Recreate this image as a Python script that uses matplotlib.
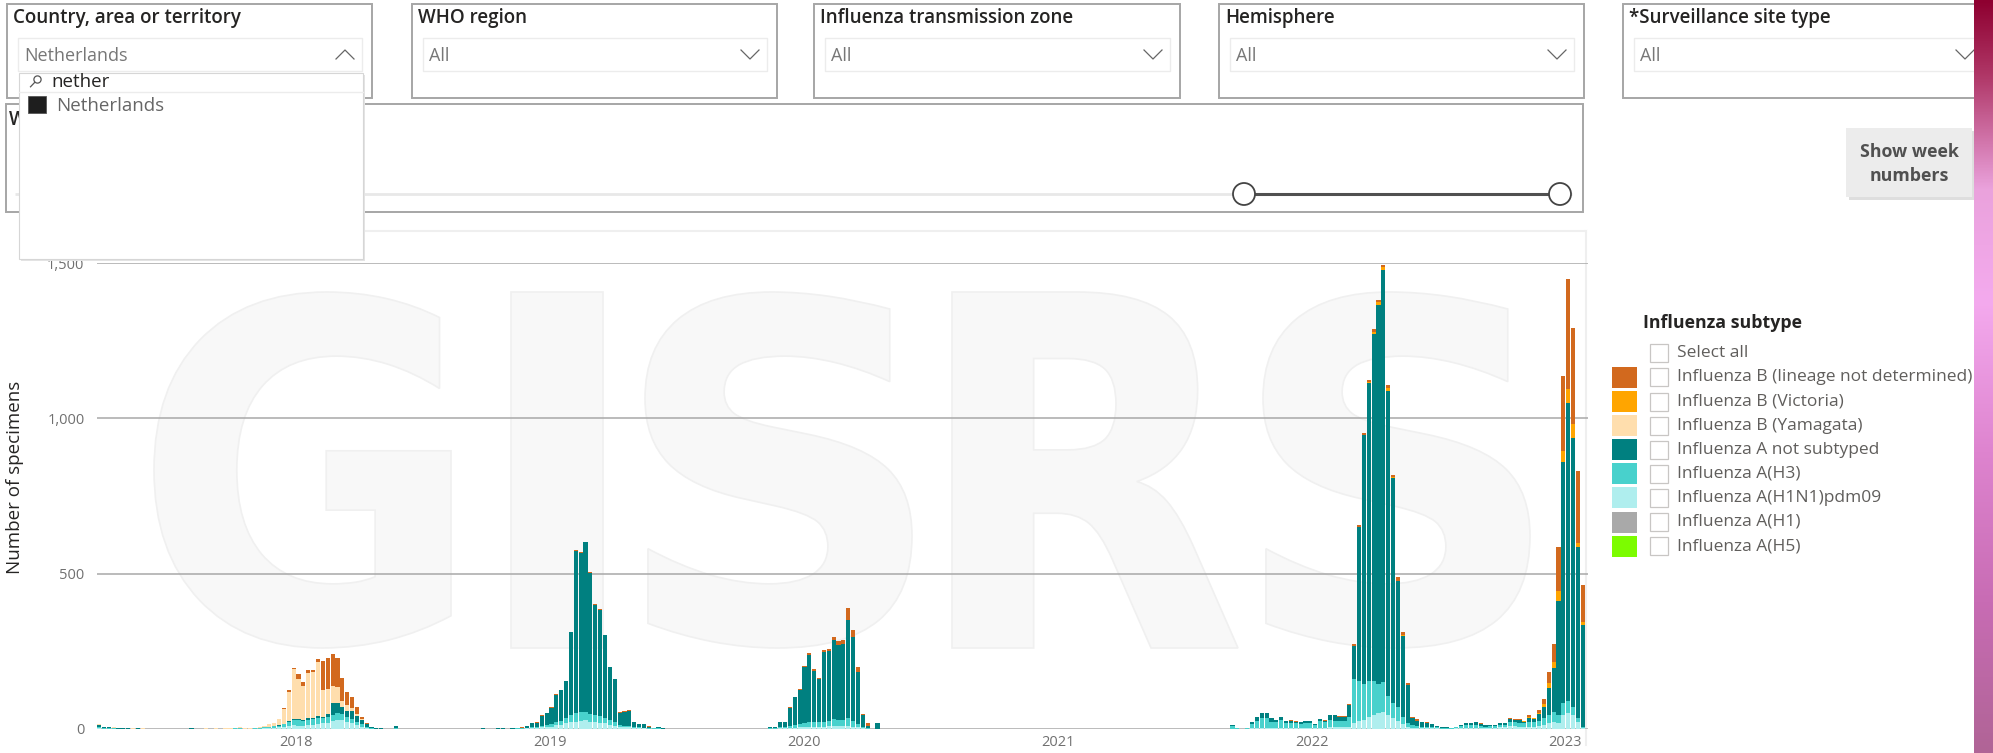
import matplotlib
matplotlib.use('Agg')
import matplotlib.pyplot as plt
import matplotlib.dates as mdates
import numpy as np
import pandas as pd
from matplotlib.patches import Rectangle, Circle, PathPatch
from matplotlib.path import Path
from matplotlib.textpath import TextPath
from matplotlib.font_manager import FontProperties
from matplotlib.colors import LinearSegmentedColormap
from matplotlib.ticker import FuncFormatter

plt.rcParams['font.family'] = ['Open Sans', 'DejaVu Sans']

##########################################
#Data: weekly number of specimens, Netherlands
first_week = '2017-03-20'
n_weeks = 306

h1n1pdm09 = [2, 1, 1, 1, 0, 0, 0, 0, 0, 0,
	0, 0, 0, 0, 0, 0, 0, 0, 0, 0,
	0, 0, 0, 0, 0, 0, 0, 0, 0, 1,
	0, 0, 1, 1, 2, 3, 4, 5, 7, 10,
	12, 10, 10, 12, 14, 16, 18, 20, 25, 28,
	28, 22, 18, 12, 8, 4, 1, 1, 0, 0,
	0, 1, 0, 0, 0, 0, 0, 0, 0, 0,
	0, 0, 0, 0, 0, 0, 0, 0, 0, 0,
	0, 0, 0, 0, 0, 1, 1, 1, 2, 3,
	3, 5, 6, 8, 12, 14, 18, 22, 24, 26,
	28, 24, 22, 20, 18, 14, 10, 6, 5, 5,
	3, 2, 2, 1, 1, 1, 0, 0, 0, 0,
	0, 0, 0, 0, 0, 0, 0, 0, 0, 0,
	0, 0, 0, 0, 0, 0, 0, 0, 1, 1,
	2, 2, 3, 4, 5, 6, 7, 8, 8, 8,
	9, 10, 10, 10, 10, 8, 6, 2, 1, 0,
	0, 0, 0, 0, 0, 0, 0, 0, 0, 0,
	0, 0, 0, 0, 0, 0, 0, 0, 0, 0,
	0, 0, 0, 0, 0, 0, 0, 0, 0, 0,
	0, 0, 0, 0, 0, 0, 0, 0, 0, 0,
	0, 0, 0, 0, 0, 0, 0, 0, 0, 0,
	0, 0, 0, 0, 0, 0, 0, 0, 0, 0,
	0, 0, 0, 0, 0, 0, 0, 0, 0, 0,
	0, 0, 0, 1, 0, 0, 0, 2, 2, 3,
	3, 2, 2, 2, 2, 2, 2, 2, 3, 3,
	3, 4, 4, 5, 5, 6, 6, 8, 20, 25,
	30, 40, 45, 50, 55, 45, 35, 25, 15, 8,
	4, 3, 3, 3, 2, 2, 1, 1, 1, 2,
	3, 4, 4, 4, 3, 3, 4, 4, 5, 6,
	9, 9, 8, 8, 8, 8, 10, 12, 20, 22,
	18, 45, 50, 45, 22, 4]

h3 = [5, 3, 2, 1, 1, 1, 1, 0, 1, 0,
	1, 0, 0, 1, 0, 0, 0, 1, 0, 1,
	0, 1, 1, 0, 1, 1, 1, 1, 2, 3,
	1, 1, 1, 2, 3, 4, 5, 6, 8, 14,
	18, 20, 16, 18, 18, 20, 16, 18, 20, 22,
	20, 18, 14, 10, 8, 4, 1, 0, 1, 0,
	0, 1, 0, 0, 1, 0, 0, 1, 0, 0,
	1, 0, 0, 0, 1, 0, 1, 0, 1, 1,
	0, 1, 1, 1, 0, 0, 1, 1, 2, 3,
	3, 5, 6, 8, 10, 12, 16, 22, 26, 28,
	26, 24, 22, 22, 18, 14, 12, 6, 6, 6,
	3, 3, 2, 2, 1, 1, 1, 1, 0, 0,
	1, 0, 0, 1, 0, 0, 0, 1, 0, 0,
	0, 1, 0, 0, 1, 0, 1, 0, 1, 2,
	4, 4, 6, 8, 10, 12, 14, 14, 14, 16,
	18, 22, 20, 18, 24, 18, 10, 3, 1, 0,
	1, 0, 0, 0, 0, 1, 0, 0, 0, 0,
	0, 0, 0, 1, 0, 0, 0, 0, 0, 0,
	0, 0, 1, 0, 0, 0, 0, 0, 0, 0,
	0, 0, 0, 0, 1, 0, 0, 0, 0, 0,
	0, 0, 0, 0, 0, 0, 1, 0, 0, 0,
	0, 0, 0, 0, 0, 0, 0, 0, 1, 0,
	0, 0, 0, 0, 1, 0, 0, 1, 0, 1,
	1, 0, 1, 9, 2, 1, 2, 15, 24, 34,
	33, 22, 20, 28, 18, 18, 16, 14, 16, 16,
	10, 22, 18, 24, 22, 20, 20, 30, 140, 130,
	115, 115, 110, 95, 95, 60, 50, 45, 25, 10,
	8, 6, 5, 4, 4, 3, 2, 2, 2, 4,
	7, 9, 10, 10, 8, 5, 5, 5, 8, 8,
	14, 12, 12, 10, 14, 14, 17, 22, 25, 34,
	27, 40, 41, 27, 12, 4]

a_not_subtyped = [5, 3, 3, 2, 1, 1, 1, 1, 1, 1,
	0, 1, 0, 0, 0, 1, 0, 0, 1, 1,
	1, 0, 0, 0, 0, 0, 0, 0, 0, 0,
	0, 0, 0, 0, 0, 1, 1, 1, 2, 2,
	3, 3, 2, 4, 4, 5, 6, 10, 40, 35,
	22, 18, 26, 20, 12, 8, 3, 2, 1, 1,
	1, 8, 1, 0, 0, 1, 0, 0, 1, 0,
	0, 1, 1, 0, 0, 1, 0, 1, 0, 1,
	1, 0, 1, 1, 1, 1, 1, 2, 5, 12,
	13, 33, 39, 53, 88, 99, 120, 267, 522, 513,
	547, 455, 355, 340, 265, 171, 138, 41, 45, 48,
	16, 10, 11, 5, 1, 4, 2, 0, 1, 0,
	0, 1, 0, 0, 1, 1, 0, 0, 1, 1,
	0, 0, 1, 1, 0, 1, 0, 1, 5, 5,
	18, 18, 59, 90, 111, 182, 216, 164, 139, 223,
	225, 256, 240, 244, 316, 269, 167, 39, 9, 1,
	17, 0, 0, 0, 0, 0, 0, 1, 0, 0,
	0, 0, 0, 0, 0, 0, 0, 0, 0, 0,
	0, 0, 0, 0, 0, 0, 0, 0, 0, 0,
	0, 0, 0, 0, 0, 0, 0, 0, 0, 0,
	0, 0, 0, 0, 0, 0, 0, 0, 0, 0,
	0, 0, 0, 0, 0, 0, 0, 0, 0, 0,
	0, 0, 0, 0, 0, 0, 0, 0, 0, 0,
	0, 0, 0, 2, 0, 0, 0, 5, 13, 15,
	14, 11, 8, 8, 6, 7, 6, 5, 6, 6,
	3, 6, 5, 15, 17, 13, 13, 38, 108, 494,
	800, 958, 1118, 1220, 1326, 982, 724, 406, 260, 124,
	22, 18, 14, 13, 9, 5, 2, 2, 1, 2,
	4, 5, 6, 7, 6, 4, 4, 4, 5, 6,
	9, 8, 8, 6, 12, 10, 20, 36, 87, 140,
	366, 775, 957, 866, 552, 327]

#Yamagata only circulated in the 2017/18 season (weeks 0-59), zero afterwards
b_yamagata_2018 = [4, 1, 1, 1, 1, 2, 0, 2, 1, 1,
	0, 0, 0, 0, 0, 0, 0, 0, 0, 0,
	0, 0, 1, 1, 1, 0, 1, 1, 1, 2,
	1, 2, 2, 3, 4, 7, 10, 19, 48, 92,
	160, 128, 112, 145, 148, 175, 85, 80, 55, 50,
	19, 20, 10, 6, 4, 1, 0, 0, 0, 0]

#Victoria only seen from week 258 (spring 2022) onwards
b_victoria_2022 = [0, 2, 2, 4, 6, 8, 10, 10, 2, 2,
	2, 0, 1, 0, 0, 0, 0, 0, 0, 0,
	0, 0, 0, 0, 0, 0, 0, 0, 0, 0,
	0, 0, 0, 0, 0, 1, 5, 2, 6, 11,
	16, 21, 32, 34, 47, 45, 13, 11]

b_not_determined = [1, 0, 1, 0, 0, 0, 0, 1, 0, 0,
	0, 0, 0, 0, 0, 0, 0, 0, 0, 0,
	0, 0, 0, 0, 0, 0, 1, 0, 0, 0,
	0, 0, 0, 0, 1, 0, 0, 1, 3, 8,
	4, 16, 10, 11, 6, 10, 95, 100, 100, 93,
	75, 40, 36, 22, 8, 2, 0, 0, 0, 0,
	0, 0, 0, 0, 0, 0, 0, 0, 0, 0,
	0, 0, 0, 0, 0, 0, 0, 0, 0, 0,
	0, 0, 0, 0, 0, 0, 0, 1, 1, 1,
	3, 1, 1, 1, 4, 2, 2, 2, 3, 2,
	2, 2, 2, 3, 2, 1, 1, 1, 1, 1,
	1, 1, 1, 1, 0, 2, 0, 0, 0, 0,
	0, 0, 0, 0, 0, 0, 0, 0, 0, 0,
	0, 0, 0, 0, 0, 0, 0, 0, 0, 0,
	0, 0, 4, 2, 2, 4, 7, 6, 3, 6,
	5, 8, 12, 15, 40, 25, 18, 4, 8, 0,
	0, 0, 0, 0, 0, 0, 0, 0, 0, 0,
	0, 0, 0, 0, 0, 0, 0, 0, 0, 0,
	0, 0, 0, 0, 0, 0, 0, 0, 0, 0,
	0, 0, 0, 0, 0, 0, 0, 0, 0, 0,
	0, 0, 0, 0, 0, 0, 0, 0, 0, 0,
	0, 0, 0, 0, 0, 0, 0, 0, 0, 0,
	0, 0, 0, 0, 0, 0, 0, 0, 0, 0,
	0, 0, 0, 0, 0, 0, 0, 0, 0, 0,
	0, 0, 0, 1, 1, 3, 1, 1, 2, 2,
	1, 1, 1, 2, 2, 2, 2, 5, 6, 6,
	6, 6, 8, 8, 8, 10, 8, 10, 10, 5,
	4, 5, 2, 2, 2, 1, 0, 0, 0, 0,
	0, 0, 0, 1, 1, 0, 0, 0, 0, 0,
	4, 3, 3, 2, 6, 2, 8, 16, 34, 57,
	142, 242, 355, 307, 231, 118]

subtype_labels = ['Influenza B (lineage not determined)', 'Influenza B (Victoria)', 'Influenza B (Yamagata)',
	'Influenza A not subtyped', 'Influenza A(H3)', 'Influenza A(H1N1)pdm09', 'Influenza A(H1)', 'Influenza A(H5)']
subtype_colors = ['#D2691E', '#FFA500', '#FFDEAD', '#008080', '#48D1CC', '#AFEEEE', '#A9A9A9', '#7CFC00']

y_ticks = [0, 500, 1000, 1500]

filter_titles = ['Country, area or territory', 'WHO region', 'Influenza transmission zone', 'Hemisphere', '*Surveillance site type']
filter_values = ['Netherlands', 'All', 'All', 'All', 'All']

##########################################
#Sanity check on the lengths
for arr in [h1n1pdm09, h3, a_not_subtyped, b_not_determined]:
	assert len(arr) == n_weeks, len(arr)

def pad(vals, start):
	out = np.zeros(n_weeks)
	out[start:start + len(vals)] = vals
	return out

b_yamagata = pad(b_yamagata_2018, 0)
b_victoria = pad(b_victoria_2022, 258)

W, H = 1993, 753
fig = plt.figure(figsize=(W / 100, H / 100), dpi=100)
fig.patch.set_facecolor('white')

def px_axes(z):
	a = fig.add_axes([0, 0, 1, 1], zorder=z)
	a.set_xlim(0, W)
	a.set_ylim(H, 0)
	a.axis('off')
	a.patch.set_alpha(0)
	return a

ax_back = px_axes(0)
ax_front = px_axes(2)

#Watermark letters behind the chart
wm_font = FontProperties(family='DejaVu Sans', weight='bold')
wm_boxes = [('G', 154, 451), ('I', 511, 603), ('S', 645, 912), ('R', 952, 1238), ('S', 1263, 1530)]
for ch, x0, x1 in wm_boxes:
	tp = TextPath((0, 0), ch, size=100, prop=wm_font)
	ext = tp.get_extents()
	v = tp.vertices.copy()
	v[:, 0] = x0 + (v[:, 0] - ext.x0) / ext.width * (x1 - x0)
	v[:, 1] = 648 - (v[:, 1] - ext.y0) / ext.height * (648 - 292)
	ax_back.add_patch(PathPatch(Path(v, tp.codes), facecolor='#f8f8f8', edgecolor='#f0f0f0', lw=1.2))

#Chart visual outline
ax_back.plot([365, 1586], [231, 231], color='#efefef', lw=1.5)
ax_back.plot([1586, 1586], [231, 745], color='#efefef', lw=1.5)

##########################################
#Main chart
ax = fig.add_axes([97 / W, (H - 729) / H, (1588 - 97) / W, (729 - 263) / H], zorder=1)
ax.patch.set_alpha(0)

weeks = pd.date_range(first_week, periods=n_weeks, freq='7D')
x = mdates.date2num(weeks.to_pydatetime())

stack = [(h1n1pdm09, subtype_colors[5]), (h3, subtype_colors[4]), (a_not_subtyped, subtype_colors[3]),
	(b_yamagata, subtype_colors[2]), (b_victoria, subtype_colors[1]), (b_not_determined, subtype_colors[0])]
bottom = np.zeros(n_weeks)
for vals, col in stack:
	vals = np.asarray(vals, dtype=float)
	ax.bar(x, vals, width=6.0, bottom=bottom, align='edge', color=col, linewidth=0, zorder=3)
	bottom += vals

ax.set_xlim(x[0], x[0] + 306.5 * 7)
ax.set_ylim(0, 1500)
ax.xaxis_date()
ax.xaxis.set_major_locator(mdates.YearLocator())
ax.xaxis.set_major_formatter(mdates.DateFormatter('%Y'))
ax.set_yticks(y_ticks)
ax.yaxis.set_major_formatter(FuncFormatter(lambda v, p: '{:,.0f}'.format(v)))
ax.grid(axis='y', color='#a8a8a8', lw=1.1, zorder=1)
ax.set_axisbelow(True)
for s in ax.spines.values():
	s.set_visible(False)
ax.tick_params(axis='both', length=0, labelsize=10.5, labelcolor='#707070')
ax.tick_params(axis='y', pad=9)
ax.tick_params(axis='x', pad=4)
ax.set_ylabel('Number of specimens', fontsize=13.5, color='#252423')
ax.yaxis.set_label_coords(-0.049, 0.54)

##########################################
#Filter boxes on top
for i, (title, value) in enumerate(zip(filter_titles, filter_values)):
	x0, x1 = [(7, 372), (412, 777), (814, 1180), (1219, 1584), (1623, 1992)][i]
	ax_front.add_patch(Rectangle((x0, 4), x1 - x0, 94, fill=False, edgecolor='#a6a6a6', lw=1.4))
	ax_front.add_patch(Rectangle((x0 + 11, 38), x1 - x0 - 21, 33, facecolor='white', edgecolor='#ececec', lw=1))
	ax_front.text(x0 + 6, 18, title, fontsize=13.5, fontweight='semibold', color='#252423', va='center', ha='left')
	ax_front.text(x0 + 17, 56, value, fontsize=13, color='#777777', va='center', ha='left')
	cx = x1 - 27
	if i == 0:
		ax_front.plot([cx - 9, cx, cx + 9], [59, 50, 59], color='#666666', lw=0.9)
	else:
		ax_front.plot([cx - 9, cx, cx + 9], [50, 59, 50], color='#666666', lw=0.9)

#Date slider box
ax_front.add_patch(Rectangle((6, 104), 1577, 108, fill=False, edgecolor='#a6a6a6', lw=1.4))
ax_front.text(9, 120, 'Week', fontsize=13.5, fontweight='semibold', color='#252423', va='center', ha='left')
ax_front.plot([15, 1572], [194, 194], color='#e8e8e8', lw=2, solid_capstyle='butt')
ax_front.plot([1244, 1560], [194, 194], color='#505050', lw=2.2)
for cx in [1244, 1560]:
	ax_front.add_patch(Circle((cx, 194), 11, facecolor='white', edgecolor='#444444', lw=1.3, zorder=5))

#Dropdown list of the country filter
ax_front.add_patch(Rectangle((21, 75), 344, 186, facecolor='#e4e4e4', edgecolor='none', zorder=5))
ax_front.add_patch(Rectangle((19, 73), 344, 186, facecolor='white', edgecolor='#d6d6d6', lw=0.8, zorder=6))
ax_front.plot([19, 363], [92, 92], color='#ececec', lw=1, zorder=7)
ax_front.add_patch(Circle((37.5, 79.5), 3.6, fill=False, edgecolor='#555555', lw=0.9, zorder=7))
ax_front.plot([34.8, 30.5], [82.3, 86.8], color='#555555', lw=0.9, zorder=7)
ax_front.text(51, 82, 'nether', fontsize=13.5, color='#252423', va='center', ha='left', zorder=7)
ax_front.add_patch(Rectangle((28, 96), 18, 17, facecolor='#1e1e1e', edgecolor='#555555', lw=0.6, zorder=7))
ax_front.text(56, 106, 'Netherlands', fontsize=13.5, color='#666666', va='center', ha='left', zorder=7)

#Show week numbers button
ax_front.add_patch(Rectangle((1849, 131), 126, 69, facecolor='#dedede', edgecolor='none'))
ax_front.add_patch(Rectangle((1846, 128), 126, 69, facecolor='#ececec', edgecolor='none'))
ax_front.text(1909, 152, 'Show week', fontsize=12.8, fontweight='bold', color='#505050', ha='center', va='center')
ax_front.text(1909, 176, 'numbers', fontsize=12.8, fontweight='bold', color='#505050', ha='center', va='center')

#Legend
ax_front.text(1643, 323, 'Influenza subtype', fontsize=12.8, fontweight='bold', color='#252423', va='center', ha='left')
rows = ['Select all'] + subtype_labels
for k, lab in enumerate(rows):
	yc = 353.3 + 24.1 * k
	if k > 0:
		ax_front.add_patch(Rectangle((1612, yc - 10.5), 25, 21, facecolor=subtype_colors[k - 1], edgecolor='none'))
	ax_front.add_patch(Rectangle((1650, yc - 9), 18, 18, facecolor='white', edgecolor='#c8c6c4', lw=0.9))
	ax_front.text(1677, yc, lab, fontsize=12.5, color='#605e5c', va='center', ha='left')

#Coloured strip on the right edge
strip_cmap = LinearSegmentedColormap.from_list('strip', [(0, '#8e0030'), (0.1, '#b03868'), (0.25, '#eaa2dc'),
	(0.4, '#f4aaee'), (0.6, '#de84cf'), (0.8, '#c86cb4'), (1, '#b06496')])
grad = np.linspace(0, 1, 256).reshape(-1, 1)
ax_front.imshow(grad, cmap=strip_cmap, extent=(1974, 1993, 753, 0), aspect='auto', zorder=10)
ax_front.set_xlim(0, W)
ax_front.set_ylim(H, 0)

plt.savefig('out.png', dpi=100, facecolor='white')
